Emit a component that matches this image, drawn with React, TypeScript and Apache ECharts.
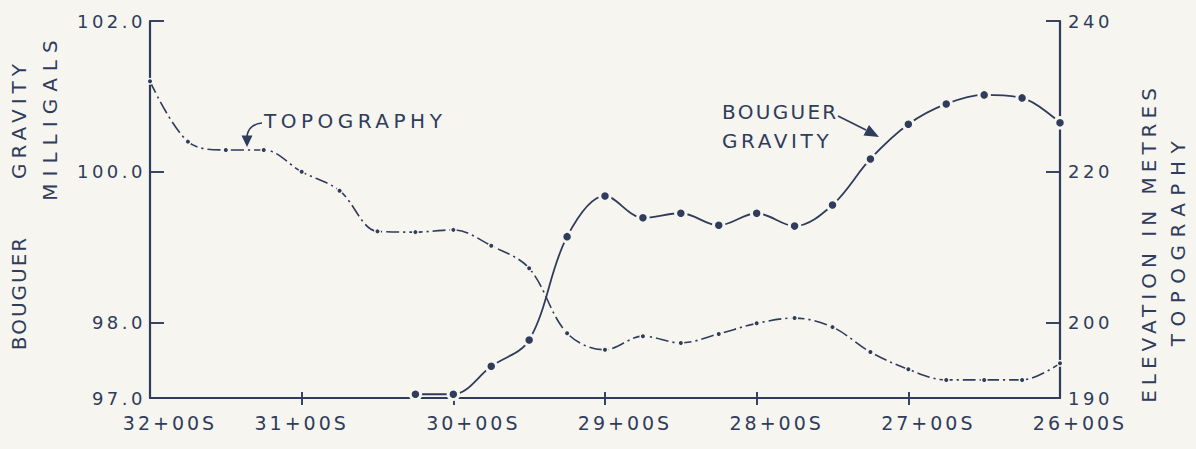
import React, { useEffect, useRef } from "react";
import * as echarts from "echarts";

// Station in hundreds of feet south (32 => 32+00S)
const xLabelStations = [32, 31, 30, 29, 28, 27, 26];
const xTickStations = [31, 30, 29, 28, 27];

const gravityLabelValues = [97, 98, 100, 102];
const gravityTickValues = [98, 100, 102];
const elevationLabelValues = [190, 200, 220, 240];
const elevationTickValues = [200, 220, 240];

const gravityStations = [30.25, 30.0, 29.75, 29.5, 29.25, 29.0, 28.75, 28.5, 28.25, 28.0, 27.75, 27.5, 27.25, 27.0, 26.75, 26.5, 26.25, 26.0];
const gravityMilligals = [97.05, 97.05, 97.42, 97.77, 99.14, 99.68, 99.39, 99.45, 99.29, 99.45, 99.28, 99.56, 100.17, 100.63, 100.9, 101.02, 100.98, 100.65];

const topoStations = [32.0, 31.75, 31.5, 31.25, 31.0, 30.75, 30.5, 30.25, 30.0, 29.75, 29.5, 29.25, 29.0, 28.75, 28.5, 28.25, 28.0, 27.75, 27.5, 27.25, 27.0, 26.75, 26.5, 26.25, 26.0];
const topoMetres = [232.0, 224.0, 222.9, 222.9, 220.0, 217.5, 212.1, 212.0, 212.3, 210.2, 207.2, 198.6, 196.4, 198.2, 197.3, 198.5, 199.9, 200.6, 199.4, 196.1, 193.8, 192.4, 192.4, 192.4, 194.6];

const ink = "#2f3c5b";
const paper = "#f6f5ef";
const fontFamily = "DejaVu Sans";

// letter spacing (px) to imitate the wide technical lettering
const spacingMap: Record<string, number> = {
  "r:BOUGUER": 2,
  "r:GRAVITY": 5,
  "r:MILLIGALS": 7,
  "r:ELEVATION IN METRES": 5,
  "r:TOPOGRAPHY": 7.5,
  "h:TOPOGRAPHY": 4.5,
  "h:BOUGUER": 2.3,
  "h:GRAVITY": 3.6,
};

function spacingFor(t: Element): number {
  const txt = (t.textContent || "").trim();
  const tr = t.getAttribute("transform") || "";
  const m = tr.match(/matrix\(([^)]+)\)/);
  let rotated = false;
  if (m) {
    const a = parseFloat(m[1].split(/[\s,]+/)[0]);
    rotated = Math.abs(a) < 0.5;
  }
  const key = (rotated ? "r:" : "h:") + txt;
  if (spacingMap[key] !== undefined) return spacingMap[key];
  if (/\+00S$/.test(txt)) return 3;
  return 3.5;
}

export default function App() {
  const ref = useRef<HTMLDivElement>(null);

  useEffect(() => {
    if (!ref.current) return;
    const chart = echarts.init(ref.current, undefined, { renderer: "svg" });

    const gravityData = gravityStations.map((s, i) => [s, gravityMilligals[i]]);
    const topoData = topoStations.map((s, i) => [s, topoMetres[i]]);

    const tickLine = { color: ink, width: 1.9 };
    const title = (text: string, x: number, y: number, rotated: boolean, align = "center") => ({
      type: "text",
      x,
      y,
      rotation: rotated ? Math.PI / 2 : 0,
      silent: true,
      style: {
        text,
        fill: ink,
        fontSize: 20,
        fontFamily,
        align,
        textAlign: align,
        verticalAlign: "middle",
        textVerticalAlign: "middle",
      },
    });

    const labelFont = { color: ink, fontFamily, fontSize: 19 };

    const option: any = {
      animation: false,
      backgroundColor: paper,
      grid: { left: 150, right: 136, top: 21, bottom: 51, containLabel: false },
      xAxis: [
        {
          type: "value",
          min: 26,
          max: 32,
          inverse: true,
          position: "bottom",
          axisLine: { show: true, onZero: false, lineStyle: { color: ink, width: 2.2 } },
          axisTick: { show: true, inside: false, length: 7, customValues: xTickStations, lineStyle: tickLine },
          axisLabel: {
            customValues: xLabelStations,
            formatter: (v: number) => (v === 31 ? `{c|${v}+00S}` : `{r|${v}+00S}`),
            ...labelFont,
            margin: 15,
            rich: {
              r: { ...labelFont, padding: [0, 0, 0, 40] },
              c: { ...labelFont },
            },
          },
          splitLine: { show: false },
        },
        {
          type: "value",
          min: 26,
          max: 32,
          inverse: true,
          position: "bottom",
          axisLine: { show: false, onZero: false },
          axisTick: { show: true, inside: true, length: 6, customValues: xTickStations, lineStyle: tickLine },
          axisLabel: { show: false },
          splitLine: { show: false },
        },
      ],
      yAxis: [
        {
          type: "value",
          min: 97,
          max: 102,
          position: "left",
          axisLine: { show: true, onZero: false, lineStyle: { color: ink, width: 2.2 } },
          axisTick: { show: true, inside: true, length: 14, customValues: gravityTickValues, lineStyle: tickLine },
          axisLabel: {
            customValues: gravityLabelValues,
            formatter: (v: number) => v.toFixed(1),
            color: ink,
            fontFamily,
            fontSize: 18,
            margin: 4,
          },
          splitLine: { show: false },
        },
        {
          type: "value",
          min: 190,
          max: 240,
          position: "right",
          axisLine: { show: true, onZero: false, lineStyle: { color: ink, width: 2.2 } },
          axisTick: { show: true, inside: true, length: 14, customValues: elevationTickValues, lineStyle: tickLine },
          axisLabel: {
            customValues: elevationLabelValues,
            formatter: (v: number) => `${v}`,
            color: ink,
            fontFamily,
            fontSize: 18,
            margin: 8,
          },
          splitLine: { show: false },
        },
      ],
      series: [
        {
          name: "Bouguer gravity",
          type: "line",
          xAxisIndex: 0,
          yAxisIndex: 0,
          data: gravityData,
          smooth: 0.35,
          clip: false,
          symbol: "circle",
          symbolSize: 10.5,
          showSymbol: true,
          itemStyle: { color: ink, borderColor: paper, borderWidth: 3 },
          lineStyle: { color: ink, width: 1.8 },
          emphasis: { disabled: true },
          z: 4,
        },
        {
          name: "Topography",
          type: "line",
          xAxisIndex: 0,
          yAxisIndex: 1,
          data: topoData,
          smooth: 0.35,
          clip: false,
          symbol: "circle",
          symbolSize: 5.5,
          showSymbol: true,
          itemStyle: { color: ink, borderColor: paper, borderWidth: 1.5 },
          lineStyle: { color: ink, width: 1.6, type: [13, 4, 2.2, 4] },
          emphasis: { disabled: true },
          z: 3,
        },
      ],
      graphic: [
        title("BOUGUER", 19, 293, true),
        title("GRAVITY", 19, 119, true),
        title("MILLIGALS", 50, 117, true),
        title("ELEVATION IN METRES", 1149, 243, true),
        title("TOPOGRAPHY", 1178, 240, true),
        title("TOPOGRAPHY", 264, 121, false, "left"),
        title("BOUGUER", 722, 112, false, "left"),
        title("GRAVITY", 722, 141, false, "left"),
        {
          type: "bezierCurve",
          silent: true,
          shape: { x1: 262, y1: 123, cpx1: 252, cpy1: 124, cpx2: 247, cpy2: 130, x2: 247, y2: 138 },
          style: { stroke: ink, lineWidth: 1.7, fill: null },
        },
        {
          type: "polygon",
          silent: true,
          shape: { points: [[241.5, 135.5], [252.5, 135.5], [247, 147]] },
          style: { fill: ink },
        },
        {
          type: "line",
          silent: true,
          shape: { x1: 838, y1: 116, x2: 866, y2: 130 },
          style: { stroke: ink, lineWidth: 1.7 },
        },
        {
          type: "polygon",
          silent: true,
          shape: { points: [[879, 137], [863.5, 135.5], [869, 125]] },
          style: { fill: ink },
        },
      ],
    };

    const applySpacing = () => {
      const root = ref.current;
      if (!root) return;
      root.querySelectorAll("text").forEach((t) => {
        t.setAttribute("letter-spacing", `${spacingFor(t)}px`);
      });
    };

    chart.setOption(option);
    applySpacing();
    chart.on("rendered", applySpacing);

    return () => {
      chart.dispose();
    };
  }, []);

  return (
    <div
      ref={ref}
      style={{ position: "fixed", left: 0, top: 0, width: 1196, height: 449, background: paper }}
    />
  );
}
